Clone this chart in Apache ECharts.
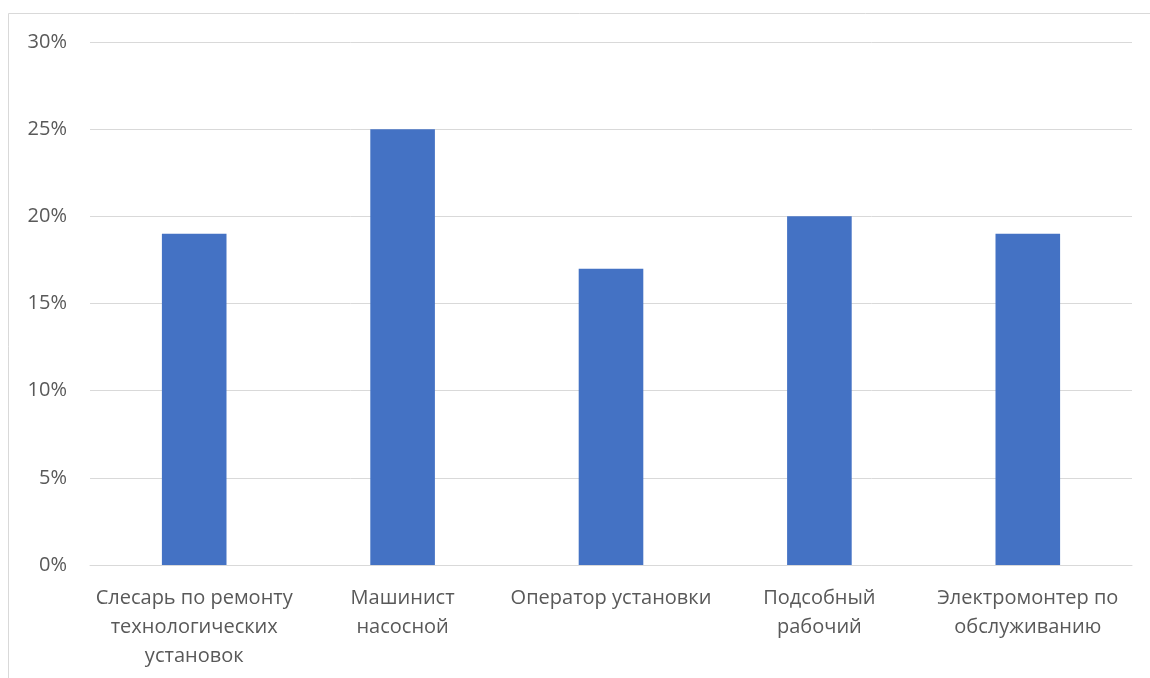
<!DOCTYPE html>
<html>
<head>
<meta charset="utf-8">
<script src="https://cdn.jsdelivr.net/npm/echarts@6/dist/echarts.min.js"></script>
<style>
html,body{margin:0;padding:0;background:#fff;}
#chart{width:1150px;height:678px;}
</style>
</head>
<body>
<div id="chart"></div>
<script>
// Professions (line breaks as they wrap under the axis)
const categories = [
  'Слесарь по ремонту\nтехнологических\nустановок',
  'Машинист\nнасосной',
  'Оператор установки',
  'Подсобный\nрабочий',
  'Электромонтер по\nобслуживанию'
];
// Share of respondents, percent
const shares = [19, 25, 17, 20, 19];
// Value axis ticks, percent
const yTicks = [0, 5, 10, 15, 20, 25, 30];

const FONT = '"Open Sans", "Noto Sans", sans-serif';
const chart = echarts.init(document.getElementById('chart'), null, {renderer: 'canvas'});
chart.setOption({
  animation: false,
  backgroundColor: '#ffffff',
  graphic: [{
    type: 'rect',
    shape: {x: 8.5, y: 13.5, width: 1300, height: 800},
    style: {fill: 'none', stroke: '#d9d9d9', lineWidth: 1}
  }],
  grid: {left: 90, right: 18, top: 42, bottom: 113, containLabel: false},
  xAxis: {
    type: 'category',
    data: categories,
    axisTick: {show: false},
    axisLine: {show: true, lineStyle: {color: '#d9d9d9', width: 1}},
    axisLabel: {
      interval: 0,
      color: '#595959',
      fontFamily: FONT,
      fontSize: 20,
      lineHeight: 29,
      margin: 19
    }
  },
  yAxis: {
    type: 'value',
    min: yTicks[0],
    max: yTicks[yTicks.length - 1],
    interval: yTicks[1] - yTicks[0],
    axisLine: {show: false},
    axisTick: {show: false},
    splitLine: {lineStyle: {color: '#d9d9d9', width: 1}},
    axisLabel: {
      formatter: v => v + '%',
      color: '#595959',
      fontFamily: FONT,
      fontSize: 20,
      margin: 23
    }
  },
  series: [{
    type: 'bar',
    data: shares,
    barWidth: '31%',
    itemStyle: {color: '#4472c4'}
  }]
});
</script>
</body>
</html>
